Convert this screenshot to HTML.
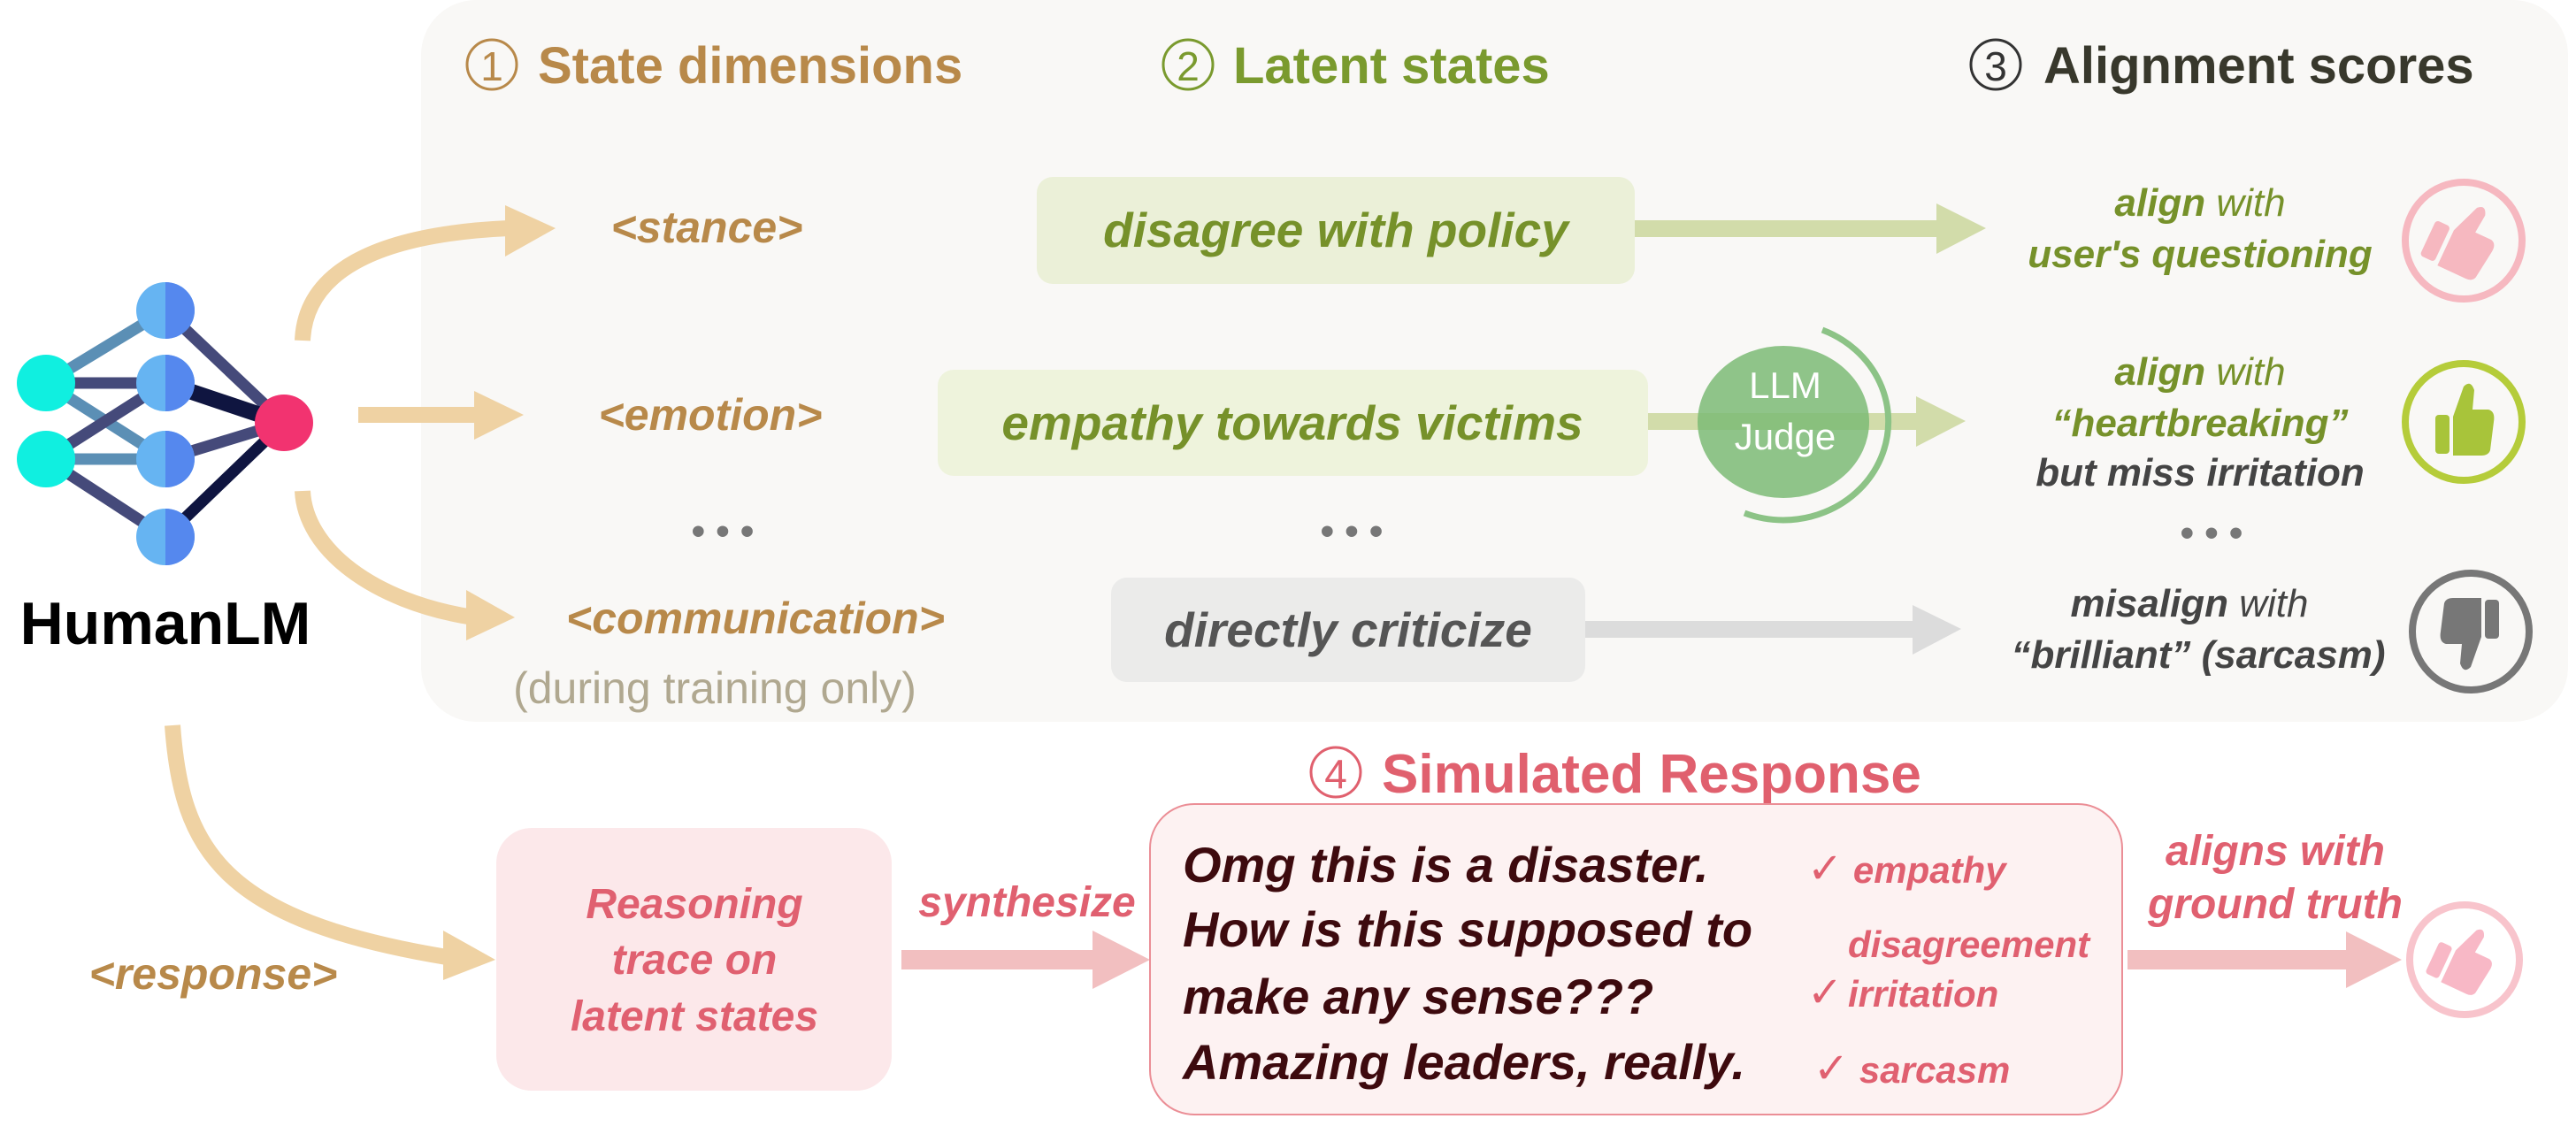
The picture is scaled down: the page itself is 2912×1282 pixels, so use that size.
<!DOCTYPE html>
<html><head><meta charset="utf-8"><style>
html,body{margin:0;padding:0;background:#fff;}
svg{display:block;}
text{font-family:"Liberation Sans",sans-serif;}
.it{font-style:italic;}
</style></head><body>
<svg width="2912" height="1282" viewBox="0 0 2912 1282" xmlns="http://www.w3.org/2000/svg">
<rect x="476" y="0" width="2427" height="816" rx="62" fill="#f9f8f6"/>
<!-- headers -->
<g font-weight="bold" font-size="58">
<circle cx="556" cy="73" r="28" fill="none" stroke="#b8894a" stroke-width="3"/>
<text x="556" y="91" font-size="46" font-weight="normal" fill="#b8894a" text-anchor="middle">1</text>
<text x="608" y="94" fill="#b8894a">State dimensions</text>
<circle cx="1343" cy="73" r="28" fill="none" stroke="#7a9a2e" stroke-width="3"/>
<text x="1343" y="91" font-size="46" font-weight="normal" fill="#7a9a2e" text-anchor="middle">2</text>
<text x="1394" y="94" fill="#7a9a2e">Latent states</text>
<circle cx="2256" cy="73" r="28" fill="none" stroke="#333" stroke-width="3"/>
<text x="2256" y="91" font-size="46" font-weight="normal" fill="#333" text-anchor="middle">3</text>
<text x="2310" y="94" fill="#38382c">Alignment scores</text>
</g>
<!-- network -->
<g stroke-width="13" stroke-linecap="round">
<line x1="52" y1="433" x2="187" y2="351" stroke="#5b8fb5"/>
<line x1="52" y1="433" x2="187" y2="433" stroke="#454a7a"/>
<line x1="52" y1="433" x2="187" y2="519" stroke="#5b8fb5"/>
<line x1="52" y1="519" x2="187" y2="433" stroke="#454a7a"/>
<line x1="52" y1="519" x2="187" y2="519" stroke="#5b8fb5"/>
<line x1="52" y1="519" x2="187" y2="607" stroke="#454a7a"/>
<line x1="187" y1="351" x2="321" y2="478" stroke="#454a7a"/>
<line x1="187" y1="433" x2="321" y2="478" stroke="#0f1540" stroke-width="18"/>
<line x1="187" y1="519" x2="321" y2="478" stroke="#454a7a"/>
<line x1="187" y1="607" x2="321" y2="478" stroke="#0f1540"/>
</g>
<ellipse cx="52" cy="433" rx="33" ry="32" fill="#10efe0"/>
<ellipse cx="52" cy="519" rx="33" ry="32" fill="#10efe0"/>
<g>
<ellipse cx="187" cy="351" rx="33" ry="32" fill="#66b4f2"/><path d="M187 319 A33 32 0 0 1 187 383Z" fill="#5588ee"/>
<ellipse cx="187" cy="433" rx="33" ry="32" fill="#66b4f2"/><path d="M187 401 A33 32 0 0 1 187 465Z" fill="#5588ee"/>
<ellipse cx="187" cy="519" rx="33" ry="32" fill="#66b4f2"/><path d="M187 487 A33 32 0 0 1 187 551Z" fill="#5588ee"/>
<ellipse cx="187" cy="607" rx="33" ry="32" fill="#66b4f2"/><path d="M187 575 A33 32 0 0 1 187 639Z" fill="#5588ee"/>
</g>
<ellipse cx="321" cy="478" rx="33" ry="32" fill="#f23370"/>
<text x="187" y="728" font-size="68" font-weight="bold" fill="#000" text-anchor="middle">HumanLM</text>
<!-- tan arrows -->
<g fill="none" stroke="#efd2a3" stroke-width="18">
<path d="M342 385 C345 310 420 265 575 258"/>
<line x1="405" y1="469" x2="540" y2="469"/>
<path d="M342 555 C345 620 420 680 535 698"/>
<path d="M195 820 C205 960 250 1040 505 1082"/>
</g>
<g fill="#efd2a3">
<polygon points="571,232 628,258 571,290"/>
<polygon points="536,442 592,469 536,497"/>
<polygon points="527,667 582,698 527,724"/>
<polygon points="501,1052 560,1085 501,1108"/>
</g>
<!-- dimension labels -->
<g class="it" font-size="50" font-weight="bold" fill="#b8894a" text-anchor="middle">
<text x="799" y="274">&lt;stance&gt;</text>
<text x="803" y="486">&lt;emotion&gt;</text>
<text x="854" y="716">&lt;communication&gt;</text>
<text x="241" y="1118">&lt;response&gt;</text>
</g>
<text x="808" y="795" font-size="50" fill="#b0a890" text-anchor="middle">(during training only)</text>
<g font-size="44" font-weight="bold" fill="#777" text-anchor="middle">
<text x="817" y="615">• • •</text>
<text x="1528" y="615">• • •</text>
<text x="2500" y="617">• • •</text>
</g>
<!-- latent boxes -->
<rect x="1172" y="200" width="676" height="121" rx="18" fill="#ebf0d8"/>
<rect x="1060" y="418" width="803" height="120" rx="18" fill="#eef3dc"/>
<rect x="1256" y="653" width="536" height="118" rx="18" fill="#ebebea"/>
<g class="it" font-size="55" font-weight="bold" text-anchor="middle">
<text x="1510" y="279" fill="#76912a">disagree with policy</text>
<text x="1461" y="497" fill="#76912a">empathy towards victims</text>
<text x="1524" y="731" fill="#555">directly criticize</text>
</g>
<!-- green/grey arrows -->
<rect x="1848" y="249" width="345" height="19" fill="#d2dcaa"/>
<polygon points="2189,230 2245,258 2189,287" fill="#d2dcaa"/>
<rect x="1863" y="467" width="307" height="19" fill="#d2dcaa"/>
<polygon points="2166,448 2222,476 2166,505" fill="#d2dcaa"/>
<rect x="1792" y="702" width="374" height="19" fill="#dcdcdc"/>
<polygon points="2162,684 2217,711 2162,740" fill="#dcdcdc"/>
<!-- LLM judge -->
<ellipse cx="2016" cy="477" rx="97" ry="86" fill="#7dbb76" opacity="0.85"/>
<path d="M2060 373 A115 108 0 0 1 1972 580" fill="none" stroke="#8cc386" stroke-width="7"/>
<text x="2018" y="450" font-size="42" fill="#fff" text-anchor="middle">LLM</text>
<text x="2018" y="508" font-size="42" fill="#fff" text-anchor="middle">Judge</text>
<!-- alignment texts -->
<g class="it" font-size="44" font-weight="bold" text-anchor="middle">
<text x="2487" y="244" fill="#76912a">align <tspan font-weight="normal">with</tspan></text>
<text x="2487" y="302" fill="#76912a">user's questioning</text>
<text x="2487" y="435" fill="#76912a">align <tspan font-weight="normal">with</tspan></text>
<text x="2487" y="493" fill="#76912a">“heartbreaking”</text>
<text x="2487" y="549" fill="#444">but miss irritation</text>
<text x="2475" y="697" fill="#444">misalign <tspan font-weight="normal">with</tspan></text>
<text x="2485" y="755" fill="#444">“brilliant” (sarcasm)</text>
</g>
<!-- thumbs -->
<g>
<circle cx="2785" cy="272" r="66" fill="none" stroke="#f6b8c0" stroke-width="8"/>
<g fill="#f6b8c0" transform="translate(2785,272) rotate(25)"><rect x="-38" y="-8" width="18" height="44" rx="4"/><path d="M-15 -6 L-2 -40 Q6 -48 10 -36 L8 -14 L28 -14 Q36 -12 34 0 L30 32 Q28 38 20 38 L-15 38Z"/></g>
<circle cx="2785" cy="477" r="66" fill="none" stroke="#b5cc3a" stroke-width="8"/>
<g fill="#a8c43a" transform="translate(2785,477)"><rect x="-32" y="-8" width="16" height="44" rx="4"/><path d="M-12 -6 L0 -40 Q8 -48 12 -36 L10 -14 L28 -14 Q36 -12 34 0 L30 32 Q28 38 20 38 L-12 38Z"/></g>
<circle cx="2793" cy="714" r="66" fill="none" stroke="#777" stroke-width="8"/>
<g fill="#777" transform="translate(2793,714) rotate(180)"><rect x="-32" y="-8" width="16" height="44" rx="4"/><path d="M-12 -6 L0 -40 Q8 -48 12 -36 L10 -14 L28 -14 Q36 -12 34 0 L30 32 Q28 38 20 38 L-12 38Z"/></g>
</g>
<!-- bottom -->
<rect x="561" y="936" width="447" height="297" rx="40" fill="#fce8ea"/>
<g class="it" font-size="48" font-weight="bold" fill="#e06070" text-anchor="middle">
<text x="785" y="1038">Reasoning</text>
<text x="785" y="1101">trace on</text>
<text x="785" y="1165">latent states</text>
<text x="1161" y="1036">synthesize</text>
<text x="2572" y="978">aligns with</text>
<text x="2572" y="1038">ground truth</text>
</g>
<rect x="1019" y="1074" width="220" height="22" fill="#f2bfc0"/>
<polygon points="1235,1052 1300,1085 1235,1118" fill="#f2bfc0"/>
<circle cx="1510" cy="873" r="28" fill="none" stroke="#e0606e" stroke-width="3"/>
<text x="1510" y="891" font-size="46" fill="#e0606e" text-anchor="middle">4</text>
<text x="1562" y="896" font-size="62" font-weight="bold" fill="#e0606e">Simulated Response</text>
<rect x="1300" y="909" width="1099" height="351" rx="50" fill="#fdf2f2" stroke="#eb8e96" stroke-width="2"/>
<g class="it" font-size="56" font-weight="bold" fill="#3d0a0e">
<text x="1337" y="997">Omg this is a disaster.</text>
<text x="1337" y="1070">How is this supposed to</text>
<text x="1337" y="1146">make any sense???</text>
<text x="1337" y="1220">Amazing leaders, really.</text>
</g>
<g class="it" font-size="42" font-weight="bold" fill="#e06070">
<text x="2043" y="998"><tspan font-size="48" font-style="normal" font-weight="normal">✓</tspan> empathy</text>
<text x="2089" y="1082">disagreement</text>
<text x="2043" y="1138"><tspan font-size="48" font-style="normal" font-weight="normal">✓</tspan></text>
<text x="2089" y="1138">irritation</text>
<text x="2050" y="1224"><tspan font-size="48" font-style="normal" font-weight="normal">✓</tspan> sarcasm</text>
</g>
<rect x="2405" y="1074" width="255" height="22" fill="#f2bfc0"/>
<polygon points="2652,1053 2715,1085 2652,1117" fill="#f2bfc0"/>
<circle cx="2786" cy="1085" r="62" fill="#fff" stroke="#f8c4cc" stroke-width="8"/>
<g fill="#f8b8c6" transform="translate(2786,1085) rotate(25) scale(0.9)"><rect x="-38" y="-8" width="18" height="44" rx="4"/><path d="M-15 -6 L-2 -40 Q6 -48 10 -36 L8 -14 L28 -14 Q36 -12 34 0 L30 32 Q28 38 20 38 L-15 38Z"/></g>
</svg>
</body></html>
